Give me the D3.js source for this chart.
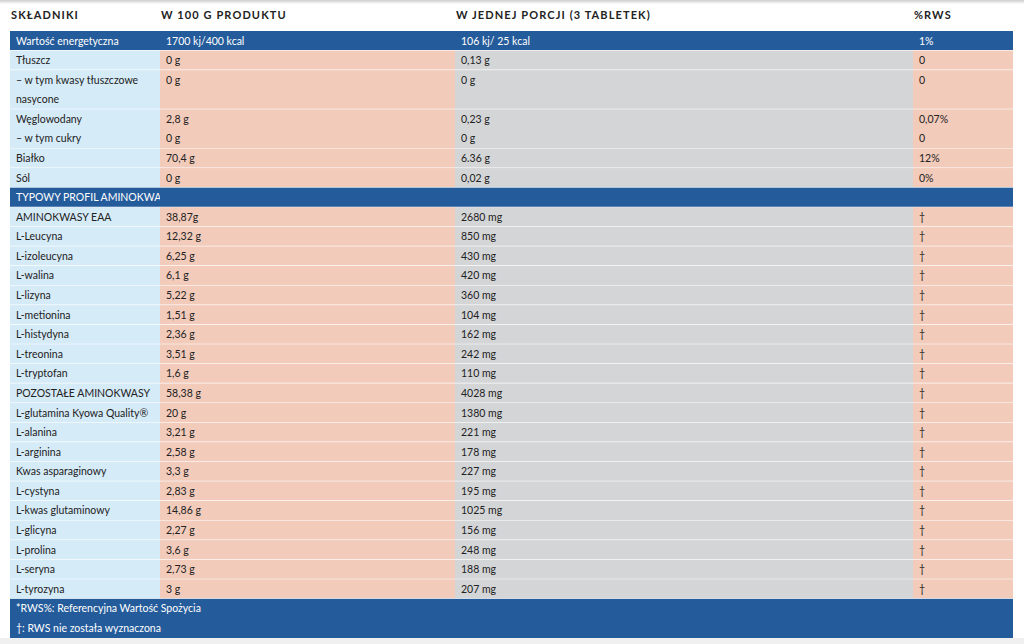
<!DOCTYPE html>
<html><head><meta charset="utf-8">
<script src="https://cdn.jsdelivr.net/npm/d3@7"></script>
<style>body{margin:0;background:#fff}text{font-family:Lato,"Open Sans",sans-serif}</style>
</head><body><svg id="t" width="1024" height="644"></svg>
<script>
const headers = ["SKŁADNIKI", "W 100 G PRODUKTU", "W JEDNEJ PORCJI (3 TABLETEK)", "%RWS"];
const D = "†";
// rows: [type, lines per cell]
const nutrition = [
  ["blue", ["Wartość energetyczna"], ["1700 kj/400 kcal"], ["106 kj/ 25 kcal"], ["1%"]],
  ["data", ["Tłuszcz"], ["0 g"], ["0,13 g"], ["0"]],
  ["data", ["– w tym kwasy tłuszczowe", "nasycone"], ["0 g", ""], ["0 g", ""], ["0", ""]],
  ["data", ["Węglowodany", "– w tym cukry"], ["2,8 g", "0 g"], ["0,23 g", "0 g"], ["0,07%", "0"]],
  ["data", ["Białko"], ["70,4 g"], ["6.36 g"], ["12%"]],
  ["data", ["Sól"], ["0 g"], ["0,02 g"], ["0%"]],
  ["blue", ["TYPOWY PROFIL AMINOKWASOWY"], [""], [""], [""]]
];
const aminoNames = ["AMINOKWASY EAA","L-Leucyna","L-izoleucyna","L-walina","L-lizyna","L-metionina","L-histydyna","L-treonina","L-tryptofan","POZOSTAŁE AMINOKWASY","L-glutamina Kyowa Quality®","L-alanina","L-arginina","Kwas asparaginowy","L-cystyna","L-kwas glutaminowy","L-glicyna","L-prolina","L-seryna","L-tyrozyna"];
const aminoPer100 = ["38,87g","12,32 g","6,25 g","6,1 g","5,22 g","1,51 g","2,36 g","3,51 g","1,6 g","58,38 g","20 g","3,21 g","2,58 g","3,3 g","2,83 g","14,86 g","2,27 g","3,6 g","2,73 g","3 g"];
const aminoPortion = ["2680 mg","850 mg","430 mg","420 mg","360 mg","104 mg","162 mg","242 mg","110 mg","4028 mg","1380 mg","221 mg","178 mg","227 mg","195 mg","1025 mg","156 mg","248 mg","188 mg","207 mg"];
const footer = ["*RWS%: Referencyjna Wartość Spożycia", D + ": RWS nie została wyznaczona"];

const rows = nutrition.concat(
  aminoNames.map((n, i) => ["data", [n], [aminoPer100[i]], [aminoPortion[i]], [D]]),
  [["foot", footer, [""], [""], [""]]]
);

const colEdges = [10, 160, 455, 913, 1013];
const colFill = ["#d6ebf8", "#f2cbbb", "#d4d5d7", "#f2cbbb"];
const blue = "#245b9b";
const totalLines = d3.sum(rows, r => r[1].length);
const y = d3.scaleLinear().domain([0, totalLines]).range([31, 638]);

const svg = d3.select("#t");
const defs = svg.append("defs");
const g = defs.append("linearGradient").attr("id", "sh").attr("x1", 0).attr("x2", 0).attr("y1", 0).attr("y2", 1);
g.append("stop").attr("offset", 0).attr("stop-color", "#ccc");
g.append("stop").attr("offset", 1).attr("stop-color", "#fff");
svg.append("rect").attr("x", 0).attr("y", 0).attr("width", 1024).attr("height", 4).attr("fill", "url(#sh)");

svg.selectAll("text.h").data(headers).enter().append("text")
  .attr("x", (d, i) => colEdges[i] + 1).attr("y", 19)
  .attr("font-size", 11).attr("font-weight", "bold").attr("letter-spacing", 1.1)
  .attr("fill", "#222").text(d => d);

let line = 0;
rows.forEach(r => {
  const n = r[1].length, y0 = y(line), y1 = y(line + n);
  const isBlue = r[0] !== "data";
  for (let c = 0; c < 4; c++) {
    if (isBlue && c > 0 && r[0] !== "blue") continue;
    svg.append("rect").attr("x", colEdges[c]).attr("y", y0)
      .attr("width", isBlue && r[0] === "foot" ? colEdges[4] - colEdges[0] : colEdges[c + 1] - colEdges[c])
      .attr("height", y1 - y0)
      .attr("fill", isBlue ? blue : colFill[c]);
    r[c + 1].forEach((t, k) => {
      svg.append("text").attr("x", colEdges[c] + 6).attr("y", y(line + k) + 13.5)
        .attr("font-size", 10.5).attr("fill", isBlue ? "#fff" : "#222").text(t);
    });
  }
  line += n;
  if (r[0] !== "foot")
    svg.append("line").attr("x1", colEdges[0]).attr("x2", colEdges[4])
      .attr("y1", y1).attr("y2", y1).attr("stroke", "#fff").attr("stroke-width", 1.2);
});
svg.append("rect").attr("x", 0).attr("y", 638).attr("width", 1024).attr("height", 6).attr("fill", "#f0f0f0");
</script></body></html>
